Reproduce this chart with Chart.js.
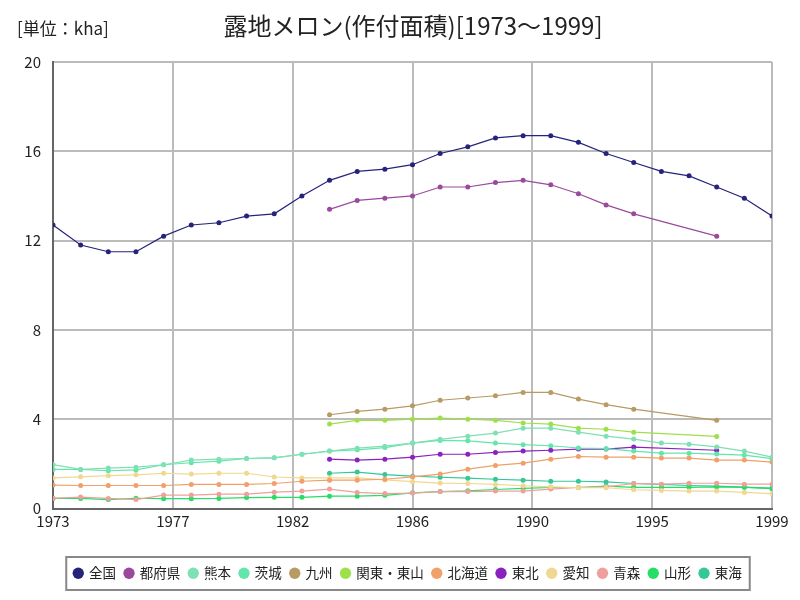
<!DOCTYPE html>
<html>
<head>
<meta charset="utf-8">
<title>露地メロン(作付面積)</title>
<script src="https://cdn.jsdelivr.net/npm/chart.js"></script>
<style>
  body { margin: 0; background: #fff; }
  canvas { display: block; }
</style>
</head>
<body>
<canvas id="myChart" width="800" height="600"></canvas>
<script>
// data (kha)
const years = [1973,1974,1975,1976,1977,1978,1979,1980,1981,1982,1983,1984,1985,1986,1987,1988,1989,1990,1991,1992,1993,1994,1995,1996,1997,1998,1999];
const xTickLabels = ['1973','1977','1982','1986','1990','1995','1999'];
const yTickLabels = ['0','4','8','12','16','20'];
const N = null;

const zenkoku  = [12.7,11.8,11.5,11.5,12.2,12.7,12.8,13.1,13.2,14.0,14.7,15.1,15.2,15.4,15.9,16.2,16.6,16.7,16.7,16.4,15.9,15.5,15.1,14.9,14.4,13.9,13.1];
const tofuken  = [N,N,N,N,N,N,N,N,N,N,13.4,13.8,13.9,14.0,14.4,14.4,14.6,14.7,14.5,14.1,13.6,13.2,N,N,12.2,N,N];
const kumamoto = [1.97,1.75,1.81,1.85,1.96,2.17,2.21,2.24,2.27,2.43,2.57,2.70,2.79,2.93,3.10,3.24,3.38,3.60,3.60,3.42,3.24,3.11,2.93,2.88,2.76,2.57,2.30];
const ibaraki  = [1.75,1.75,1.69,1.73,1.96,2.05,2.12,2.24,2.27,2.43,2.57,2.63,2.73,2.93,3.05,3.03,2.93,2.86,2.81,2.71,2.68,2.57,2.48,2.48,2.44,2.39,2.23];
const kyushu   = [N,N,N,N,N,N,N,N,N,N,4.2,4.35,4.45,4.6,4.85,4.95,5.05,5.2,5.2,4.9,4.65,4.45,N,N,3.95,N,N];
const kanto    = [N,N,N,N,N,N,N,N,N,N,3.78,3.95,3.95,4.0,4.05,4.0,3.95,3.83,3.78,3.6,3.55,3.42,N,N,3.23,N,N];
const hokkaido = [1.05,1.03,1.03,1.03,1.03,1.08,1.08,1.08,1.12,1.22,1.27,1.27,1.31,1.42,1.54,1.76,1.93,2.03,2.21,2.33,2.30,2.30,2.26,2.26,2.17,2.17,2.08];
const tohoku   = [N,N,N,N,N,N,N,N,N,N,2.21,2.17,2.21,2.3,2.43,2.43,2.51,2.57,2.61,2.66,2.66,2.75,N,N,2.61,N,N];
const aichi    = [1.37,1.42,1.47,1.51,1.58,1.54,1.58,1.58,1.41,1.37,1.37,1.37,1.28,1.20,1.14,1.12,1.08,1.02,0.97,0.93,0.93,0.84,0.81,0.78,0.78,0.72,0.67];
const aomori   = [0.46,0.51,0.45,0.40,0.60,0.60,0.64,0.64,0.73,0.78,0.87,0.72,0.67,0.69,0.76,0.76,0.78,0.78,0.87,0.94,0.97,1.12,1.09,1.13,1.13,1.09,1.09];
const yamagata = [0.45,0.45,0.40,0.46,0.44,0.44,0.45,0.49,0.50,0.50,0.55,0.55,0.59,0.70,0.76,0.79,0.85,0.90,0.94,0.94,1.00,0.95,0.95,0.95,0.97,0.95,0.89];
const tokai    = [N,N,N,N,N,N,N,N,N,N,1.58,1.63,1.52,1.45,1.40,1.36,1.31,1.27,1.22,1.22,1.19,1.12,1.08,1.03,1.00,0.96,0.91];

const series = [
  ['全国', zenkoku, '#25237a'],
  ['都府県', tofuken, '#9a4a9c'],
  ['熊本', kumamoto, '#7fe0b4'],
  ['茨城', ibaraki, '#62e6ac'],
  ['九州', kyushu, '#b89a64'],
  ['関東・東山', kanto, '#9ee04a'],
  ['北海道', hokkaido, '#f0a068'],
  ['東北', tohoku, '#8a22c0'],
  ['愛知', aichi, '#f0d890'],
  ['青森', aomori, '#f0a09c'],
  ['山形', yamagata, '#26dd66'],
  ['東海', tokai, '#34c898']
];

const datasets = series.map(([name, arr, color]) => ({
  label: name,
  data: years.map((yr, i) => ({ x: yr, y: arr[i] })),
  borderColor: color,
  backgroundColor: color,
  borderWidth: 1.2,
  pointRadius: 2.5,
  pointHoverRadius: 3,
  pointBorderWidth: 0,
  spanGaps: true,
  tension: 0
}));

const FONT = '"Noto Sans CJK JP", "DejaVu Sans", sans-serif';
const LEGEND_SHIFT = 22;

// heading texts and legend frame
const decor = {
  id: 'decor',
  afterLayout(chart) {
    // nudge the legend right so it sits centred like the reference
    const lg = chart.legend;
    lg.left += LEGEND_SHIFT;
    lg.right += LEGEND_SHIFT;
    (lg.legendHitBoxes || []).forEach(b => { b.left += LEGEND_SHIFT; });
  },
  afterDraw(chart) {
    const ctx = chart.ctx;
    ctx.save();
    ctx.fillStyle = '#222';
    ctx.textBaseline = 'middle';
    ctx.font = '24px ' + FONT;
    ctx.textAlign = 'center';
    ctx.fillText('露地メロン(作付面積)[1973～1999]', 413, 26);
    ctx.font = '17px ' + FONT;
    ctx.textAlign = 'left';
    ctx.fillText('[単位：kha]', 17, 29);

    const boxes = chart.legend.legendHitBoxes;
    if (boxes && boxes.length) {
      const l = Math.min(...boxes.map(b => b.left)) - 8;
      const r = Math.max(...boxes.map(b => b.left + b.width)) + 8;
      ctx.strokeStyle = '#888';
      ctx.lineWidth = 2;
      ctx.strokeRect(l, 557, r - l, 33);
    }
    ctx.restore();
  }
};

new Chart(document.getElementById('myChart').getContext('2d'), {
  type: 'line',
  data: { datasets },
  plugins: [decor],
  options: {
    responsive: false,
    animation: false,
    layout: { padding: { left: 0, right: 28, top: 62, bottom: 10 } },
    scales: {
      x: {
        type: 'linear',
        min: 1973,
        max: 1999,
        afterBuildTicks(scale) {
          scale.ticks = xTickLabels.map((t, i) => ({ value: 1973 + i * 26 / 6 }));
        },
        afterFit(scale) { scale.height = 49; },
        ticks: {
          callback: (v, i) => xTickLabels[i],
          color: '#222',
          font: { size: 15, family: FONT },
          padding: 4,
          maxRotation: 0
        },
        grid: { color: '#bbbbbb', lineWidth: 2, drawTicks: false },
        border: { color: '#666', width: 2 }
      },
      y: {
        min: 0,
        max: 20,
        afterBuildTicks(scale) {
          scale.ticks = yTickLabels.map(t => ({ value: Number(t) }));
        },
        afterFit(scale) { scale.width = 53; },
        ticks: {
          callback: (v, i) => yTickLabels[i],
          color: '#222',
          font: { size: 15, family: FONT },
          padding: 12
        },
        grid: { color: '#bbbbbb', lineWidth: 2, drawTicks: false },
        border: { color: '#666', width: 2 }
      }
    },
    plugins: {
      title: { display: false },
      tooltip: { enabled: false },
      legend: {
        position: 'bottom',
        labels: {
          usePointStyle: true,
          pointStyle: 'circle',
          boxWidth: 8,
          boxHeight: 8,
          padding: 9,
          color: '#222',
          font: { size: 13.5, family: FONT }
        }
      }
    }
  }
});
</script>
</body>
</html>
